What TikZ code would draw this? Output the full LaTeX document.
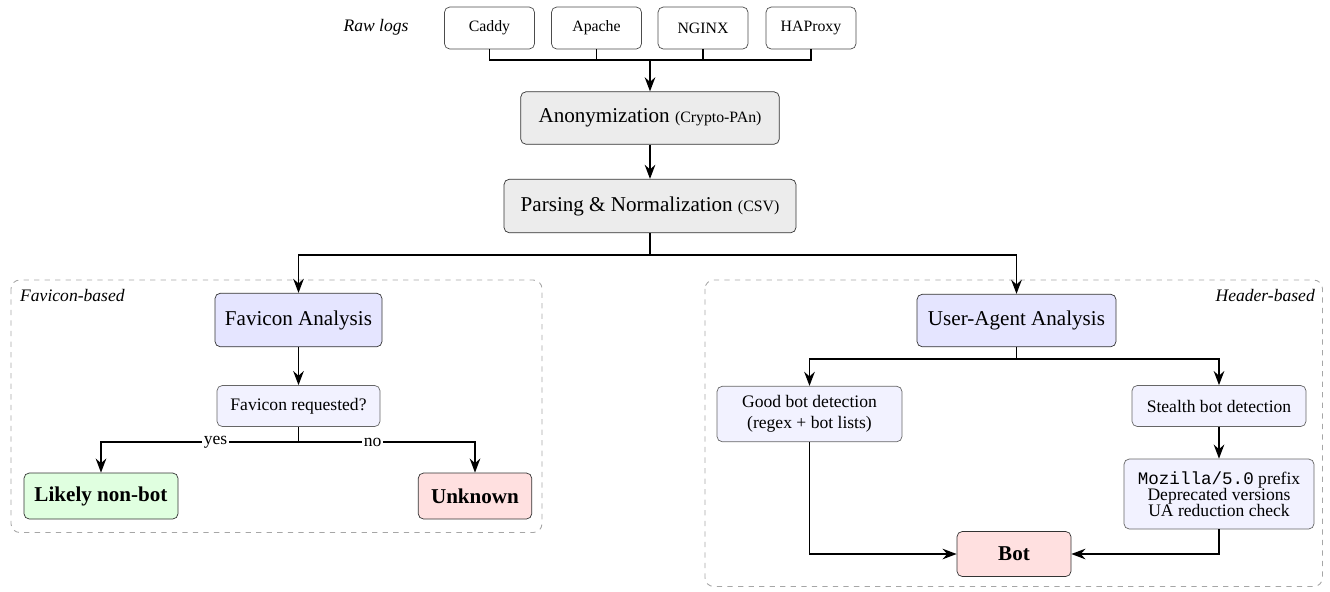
\documentclass[tikz,border=0pt]{standalone}
\usepackage{fontspec}
\setmainfont{Liberation Serif}
\setmonofont{Liberation Mono}
\usetikzlibrary{arrows.meta}

\tikzset{
  logbox/.style={draw=black!70, rounded corners=3pt, fill=white, minimum width=1.8cm, minimum height=0.84cm, font=\small},
  procbox/.style={draw=black!80, rounded corners=3pt, fill=gray!15, font=\large},
  anabox/.style={draw=black!80, rounded corners=3pt, fill=blue!10, minimum height=1.07cm, font=\large},
  checkbox/.style={draw=black!60, rounded corners=3pt, fill=blue!5, align=center},
  goodbox/.style={draw=black!80, rounded corners=3pt, fill=green!12, minimum height=0.92cm, font=\large\bfseries},
  badbox/.style={draw=black!80, rounded corners=3pt, fill=red!12, minimum height=0.92cm, font=\large\bfseries},
  flow/.style={line width=1.1pt, -{Stealth[length=8pt,width=6pt]}},
  link/.style={line width=1.1pt},
  group/.style={draw=gray!70, dashed, rounded corners=5pt, line width=0.5pt},
  answer/.style={fill=white, inner sep=1pt}
}

\begin{document}
\begin{tikzpicture}
    \useasboundingbox (0,0) rectangle (26.6,-11.82);

    % dashed groups
    \draw[group] (0.22,-5.6) rectangle (10.84,-10.65);
    \draw[group] (14.1,-5.6) rectangle (26.45,-11.73);
    \node[anchor=north west, font=\itshape] (favlabel) at (0.28,-5.66) {Favicon-based};
    \node[anchor=north east, font=\itshape] (hdrlabel) at (26.42,-5.66) {Header-based};

    % raw logs
    \node[font=\itshape] (rawlabel) at (7.52,-0.55) {Raw logs};
    \node[logbox] (caddy) at (9.79,-0.56) {Caddy};
    \node[logbox] (apache) at (11.93,-0.56) {Apache};
    \node[logbox] (nginx) at (14.06,-0.56) {NGINX};
    \node[logbox] (haproxy) at (16.22,-0.56) {HAProxy};
    \coordinate (bus) at (13.0,-1.2);
    \draw[link] (caddy.south) |- (haproxy.south |- bus) -- (haproxy.south);
    \draw[link] (apache.south) -- (apache.south |- bus);
    \draw[link] (nginx.south) -- (nginx.south |- bus);

    % preprocessing
    \node[procbox, minimum width=5.17cm, minimum height=1.05cm] (anon) at (13.0,-2.36)
        {Anonymization {\small (Crypto-PAn)}};
    \node[procbox, minimum width=5.84cm, minimum height=1.07cm] (parse) at (13.0,-4.12)
        {Parsing \& Normalization {\small (CSV)}};
    \draw[flow] (bus) -- (anon);
    \draw[flow] (anon) -- (parse);
    \coordinate (split) at (13.0,-5.1);
    \draw[link] (parse.south) -- (split);

    % favicon side
    \node[anabox, minimum width=3.34cm] (favana) at (5.97,-6.4) {Favicon Analysis};
    \node[checkbox, minimum width=3.26cm, minimum height=0.82cm] (favreq) at (5.97,-8.12) {Favicon requested?};
    \node[goodbox, minimum width=3.08cm] (likely) at (2.02,-9.92) {Likely non-bot};
    \node[badbox, minimum width=2.27cm] (unknown) at (9.5,-9.92) {Unknown};
    \draw[flow] (split) -| (favana);
    \draw[flow] (favana) -- (favreq);
    \draw[link] (favreq.south) -- ++(0,-0.31) coordinate (favsplit);
    \draw[flow] (favsplit) -| node[answer, pos=0.21] {yes} (likely);
    \draw[flow] (favsplit) -| node[answer, pos=0.21] {no} (unknown);

    % header side
    \node[anabox, minimum width=3.98cm, minimum height=1.05cm] (uaana) at (20.33,-6.41) {User-Agent Analysis};
    \node[checkbox, minimum width=3.7cm, minimum height=1.11cm] (good) at (16.19,-8.28)
        {Good bot detection\\(regex + bot lists)};
    \node[checkbox, minimum width=3.48cm, minimum height=0.82cm] (stealth) at (24.38,-8.12) {Stealth bot detection};
    \node[checkbox, minimum width=3.8cm, minimum height=1.4cm] (moz) at (24.38,-9.88)
        {\texttt{Mozilla/5.0} prefix\\[-3pt]Deprecated versions\\[-3pt]UA reduction check};
    \node[badbox, minimum width=2.28cm, minimum height=0.9cm] (bot) at (20.28,-11.08) {Bot};
    \draw[flow] (split) -| (uaana);
    \draw[link] (uaana.south) -- ++(0,-0.235) coordinate (uasplit);
    \draw[flow] (uasplit) -| (good);
    \draw[flow] (uasplit) -| (stealth);
    \draw[flow] (stealth) -- (moz);
    \draw[flow] (good.south) |- (bot.west);
    \draw[flow] (moz.south) |- (bot.east);
\end{tikzpicture}
\end{document}
